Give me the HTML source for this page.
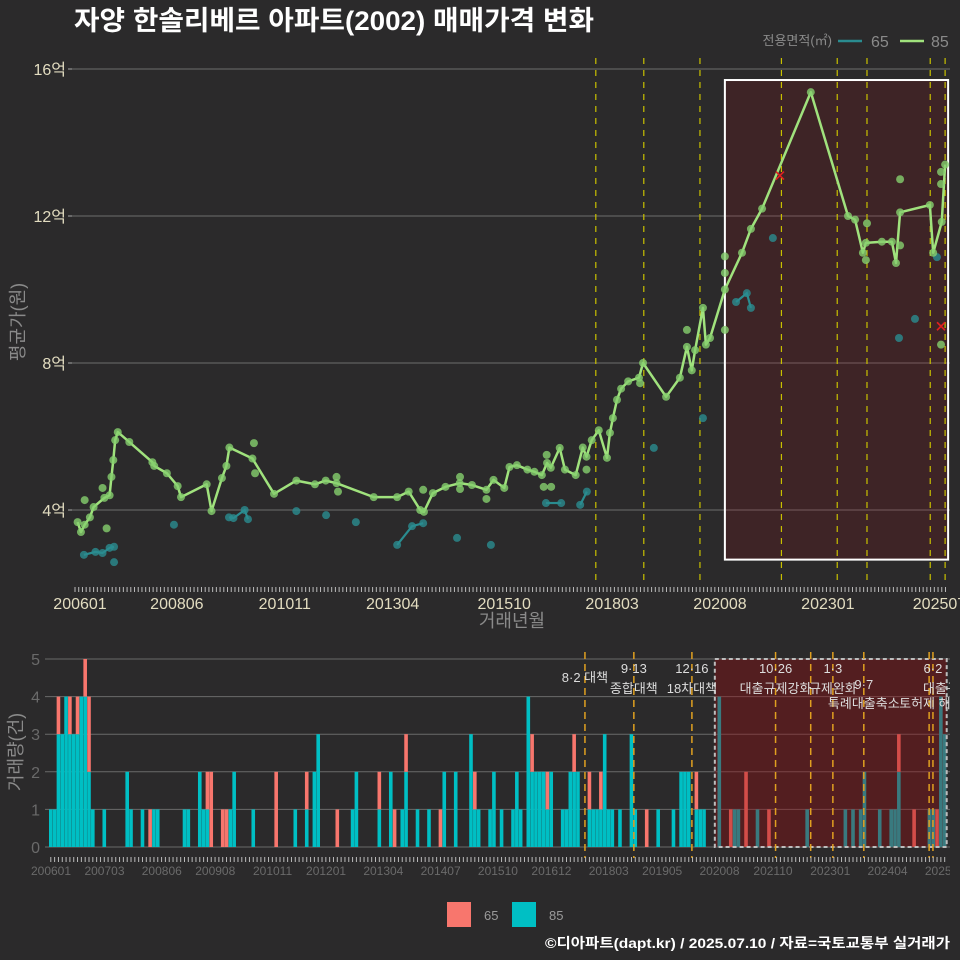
<!DOCTYPE html>
<html><head><meta charset="utf-8">
<style>
html,body{margin:0;padding:0;background:#2b2a2b;}
svg{display:block;font-family:"Liberation Sans","Noto Sans CJK KR",sans-serif;}
</style></head>
<body>
<svg id="chart" width="960" height="960" viewBox="0 0 960 960" xmlns="http://www.w3.org/2000/svg">
<rect x="0" y="0" width="960" height="960" fill="#2b2a2b"/>
<text x="74" y="30" font-size="27" font-weight="bold" fill="#ffffff" textLength="520" lengthAdjust="spacingAndGlyphs">자양 한솔리베르 아파트(2002) 매매가격 변화</text>
<g>
<text x="832" y="45" font-size="13" fill="#8a8a8a" text-anchor="end">전용면적(㎡)</text>
<line x1="838" y1="41" x2="862" y2="41" stroke="#2a8c90" stroke-width="2.5"/>
<text x="871" y="47" font-size="16" fill="#8a8a8a">65</text>
<line x1="900" y1="41" x2="924" y2="41" stroke="#a0e27d" stroke-width="2.5"/>
<text x="931" y="47" font-size="16" fill="#8a8a8a">85</text>
</g>
<g id="topChart"></g>
<g id="botChart"></g>
<g>
<rect x="447" y="902" width="24" height="25" fill="#f8766d"/>
<text x="484" y="920" font-size="13" fill="#9a9a9a">65</text>
<rect x="512" y="902" width="24" height="25" fill="#00bfc4"/>
<text x="549" y="920" font-size="13" fill="#9a9a9a">85</text>
</g>
<text x="950" y="948" font-size="14" font-weight="bold" fill="#ffffff" text-anchor="end" textLength="405" lengthAdjust="spacingAndGlyphs">©디아파트(dapt.kr) / 2025.07.10 / 자료=국토교통부 실거래가</text>
</svg>
<script>
// ---- price chart data (month index from 2006-01, price in 억) ----
const line85Month = [0.7,1.6,2.6,4,5,7.9,9.3,9.8,10.3,10.8,11.5,14.6,20.8,21.3,24.7,27.6,28.5,35.4,36.7,39.5,40.7,41.5,47.7,53.5,59.5,64.5,67.4,70.3,80.3,86.6,89.7,92.8,93.8,96.2,99.6,103.4,106.7,110.6,112.5,115.4,116.8,118.8,121.6,123.5,125.5,126.9,127.9,130.3,131.7,134.6,136.5,137.5,138.9,140.8,143,143.8,144.6,145.7,146.8,148.7,151.6,152.7,158.9,162.6,164.5,165.8,166.7,168.8,169.6,170.7,174.7,179.3,181.7,184.7,197.8,207.8,209.7,211.8,212.6,216.9,219.6,220.7,221.8,229.8,230.7,233,233.9];
const line85Price = [3.67,3.4,3.6,3.8,4.08,4.33,4.4,4.9,5.36,5.9,6.12,5.85,5.3,5.2,5.0,4.65,4.35,4.7,3.97,4.87,5.2,5.7,5.4,4.44,4.8,4.7,4.8,4.73,4.35,4.35,4.5,4.0,3.95,4.46,4.63,4.73,4.68,4.55,4.82,4.6,5.17,5.22,5.1,5.04,4.95,5.28,5.15,5.69,5.1,4.95,5.7,5.45,5.9,6.17,5.42,6.1,6.5,7.0,7.3,7.5,7.6,8.0,7.08,7.6,8.44,7.8,8.35,9.5,8.5,8.68,10.0,11.0,11.65,12.2,15.37,12.0,11.9,11.0,11.27,11.3,11.3,10.72,12.1,12.3,11.0,11.84,13.4];
const extra85Month = [2.6,8.5,7.4,48.1,48.4,70.3,70.7,93.6,103.5,103.5,110.6,126,128,126.8,137.5,174.7,174.7,174.7,164.5,151.9,212.9,221.8,221.8,212.6,232.8,232.8,232.8];
const extra85Price = [4.27,3.5,4.6,5.82,5.0,4.9,4.5,4.55,4.9,4.57,4.3,4.63,4.63,5.5,5.1,10.9,10.45,8.9,8.9,7.45,11.8,13.0,11.2,10.8,13.2,12.87,8.5];
const pts65Month = [2.4,5.5,7.4,9.3,10.5,26.6,41.4,42.6,45.6,46.5,59.5,67.5,75.5,86.6,90.6,93.6,102.7,111.8,126.6,130.7,135.8,137.6,155.6,168.8,177.7,180.6,181.7,187.6,221.5,225.8,231.7];
const pts65Price = [2.78,2.86,2.83,2.97,3.0,3.6,3.8,3.78,4.0,3.75,3.97,3.86,3.67,3.05,3.56,3.64,3.24,3.05,4.19,4.19,4.14,4.5,5.69,6.5,9.66,9.9,9.5,11.4,8.68,9.2,10.88];
const extra65Month = [10.5];
const extra65Price = [2.58];
const outlierMonth = [189.5,232.8];
const outlierPrice = [13.1,9.0];
const yTicks = [4,8,12,16];
const yTickLabels = ["4억","8억","12억","16억"];
const xTickMonths = [0,29,58,87,117,146,175,204,234];
const xTickLabels = ["200601","200806","201011","201304","201510","201803","202008","202301","202507"];
const topEventMonths = [140.0,152.9,168.0,189.9,204.9,212.9,229.9,233.9];
const topBoxStart = 174.7, topBoxEnd = 233.9, topBoxLow = 2.65, topBoxHigh = 15.7;

// ---- volume chart data ----
const barMonth = [0,1,2,3,4,5,6,7,8,9,10,11,14,20,21,24,26,27,28,35,36,39,40,41,42,45,46,47,48,53,59,64,67,69,70,75,79,80,86,89,90,92,93,96,99,102,103,106,110,111,112,115,116,118,121,122,123,125,126,127,128,129,130,131,134,135,136,137,138,141,142,143,144,145,146,147,149,152,153,156,159,163,165,166,167,169,170,171,175,178,179,180,182,185,188,198,208,210,212,213,217,220,221,222,226,230,231,232,233,234];
const bar85 = [1,1,3,3,4,3,3,3,4,4,2,1,1,2,1,1,0,1,1,1,1,2,1,1,0,0,0,1,2,1,0,1,1,2,3,0,1,2,1,2,0,1,2,1,1,0,2,2,3,1,1,1,2,1,1,2,1,4,2,2,2,2,1,2,1,1,2,2,2,1,1,1,1,3,1,1,1,3,1,0,1,1,2,2,2,1,1,1,4,0,1,1,0,1,0,1,1,1,1,2,1,1,1,2,0,1,1,0,4,3];
const bar65 = [0,0,1,0,0,1,0,1,0,1,2,0,0,0,0,0,1,0,0,0,0,0,0,1,2,1,1,0,0,0,2,0,1,0,0,1,0,0,1,0,1,0,1,0,0,1,0,0,0,1,0,0,0,0,0,0,0,0,1,0,0,0,1,0,0,0,0,1,0,1,0,0,1,0,0,0,0,0,0,1,0,0,0,0,0,1,0,0,0,1,0,0,2,0,1,0,0,0,0,0,0,0,0,1,1,0,0,1,0,0];
const volTicks = [0,1,2,3,4,5];
const volXTickMonths = [0,14,29,43,58,72,87,102,117,131,146,160,175,189,204,219,234];
const volXTickLabels = ["200601","200703","200806","200908","201011","201201","201304","201407","201510","201612","201803","201905","202008","202110","202301","202404","202507"];
const botEventMonths = [140.3,153.1,168.3,190.2,199.4,205.2,213.3,230.4,231.4];
const eventDates = ["8·2","9·13","12·16","10·26","","1·3","9·7","","6·2"];
const eventNames = ["대책","종합대책","18차대책","대출규제강화","","규제완화","특례대출축소","토허제 해제","대출규"];
const botBoxStart = 174.3, botBoxEnd = 235.0;

const NS = "http://www.w3.org/2000/svg";
function mk(parent, tag, attrs, text){
  const el = document.createElementNS(NS, tag);
  for (const k in attrs) el.setAttribute(k, attrs[k]);
  if (text !== undefined) el.textContent = text;
  parent.appendChild(el);
  return el;
}
const xTop = m => 75 + m * 3.72;
const yTop = v => 510 - (v - 4) * 36.75;
const xBot = m => 49 + m * 3.82;
const yBot = c => 847 - c * 37.6;

const topG = document.getElementById('topChart');
const botG = document.getElementById('botChart');

// ---- top chart ----
yTicks.forEach((t, i) => {
  const g = mk(topG, 'line', {x1:72, x2:950, y1:yTop(t), y2:yTop(t), stroke:'#6e6e6e', 'stroke-width':1});
  
  
  const tk = mk(topG, 'line', {x1:68, x2:72, y1:yTop(t), y2:yTop(t), stroke:'#aaa', 'stroke-width':1});
  
  
  const lb = mk(topG, 'text', {x:66, y:yTop(t)+6, 'font-size':16, fill:'#e2dcc0', 'text-anchor':'end'}, yTickLabels[i]);
  
  
});
const tb = mk(topG, 'rect', {x:xTop(topBoxStart), y:yTop(topBoxHigh), width:xTop(topBoxEnd)-xTop(topBoxStart)+3, height:yTop(topBoxLow)-yTop(topBoxHigh), fill:'rgba(150,10,15,0.18)', stroke:'#ffffff', 'stroke-width':2});


topEventMonths.forEach(m => {
  const l = mk(topG, 'line', {x1:xTop(m), x2:xTop(m), y1:58, y2:582, stroke:'#c8c000', 'stroke-width':1.2, 'stroke-dasharray':'6,6'});
  
  
});
for (let m = 0; m <= 234; m++) {
  const t = mk(topG, 'line', {x1:xTop(m), x2:xTop(m), y1:587, y2:592, stroke:'#bbbbbb', 'stroke-width':1});
  
  
}
xTickMonths.forEach((m, i) => {
  let cx = xTop(m) - 6;
  if (cx < 80) cx = 80;
  const t = mk(topG, 'text', {x:cx, y:609, 'font-size':16, fill:'#e2dcc0', 'text-anchor':'middle'}, xTickLabels[i]);
  
  
});
const xt = mk(topG, 'text', {x:512, y:627, 'font-size':18, fill:'#8a8a8a', 'text-anchor':'middle'}, '거래년월');


const yt = mk(topG, 'text', {x:0, y:0, 'font-size':18, fill:'#8a8a8a', 'text-anchor':'middle', transform:'translate(24,322) rotate(-90)'}, '평균가(원)');



let seg = [];
function flush65(){
  if (seg.length > 1) {
    const p = mk(topG, 'polyline', {points:seg.join(' '), fill:'none', stroke:'#2a8c90', 'stroke-width':2.2});
    
    
  }
  seg = [];
}
pts65Month.forEach((m, i) => {
  if (i > 0 && m - pts65Month[i-1] > 4.2) flush65();
  seg.push(xTop(m) + ',' + yTop(pts65Price[i]));
});
flush65();
const pl = mk(topG, 'polyline', {points: line85Month.map((m,i)=>xTop(m)+','+yTop(line85Price[i])).join(' '), fill:'none', stroke:'#a0e27d', 'stroke-width':2.5, 'stroke-linejoin':'round'});


function dot(m, v, color, name){
  const c = mk(topG, 'circle', {cx:xTop(m), cy:yTop(v), r:4, fill:color, 'fill-opacity':0.8});
  
  
}
pts65Month.forEach((m,i)=>dot(m, pts65Price[i], '#2a8c90', 'point-65'));
extra65Month.forEach((m,i)=>dot(m, extra65Price[i], '#2a8c90', 'point-65'));
line85Month.forEach((m,i)=>dot(m, line85Price[i], '#86cf6e', 'point-85'));
extra85Month.forEach((m,i)=>dot(m, extra85Price[i], '#86cf6e', 'point-85'));
outlierMonth.forEach((m,i)=>{
  const cx = xTop(m), cy = yTop(outlierPrice[i]);
  const p = mk(topG, 'path', {d:`M${cx-4},${cy-4}L${cx+4},${cy+4}M${cx-4},${cy+4}L${cx+4},${cy-4}`, stroke:'#e02020', 'stroke-width':1.6, fill:'none'});
  
  
});

// ---- bottom chart ----
volTicks.forEach(t => {
  const g = mk(botG, 'line', {x1:45, x2:950, y1:yBot(t), y2:yBot(t), stroke:'#6a6a6a', 'stroke-width':1});
  
  
  const lb = mk(botG, 'text', {x:40, y:yBot(t)+6, 'font-size':16, fill:'#6a6a6a', 'text-anchor':'end'}, String(t));
  
  
});
barMonth.forEach((m, i) => {
  const x = xBot(m);
  if (bar85[i] > 0) {
    const r = mk(botG, 'rect', {x:x, y:yBot(bar85[i]), width:3.6, height:yBot(0)-yBot(bar85[i]), fill:'#00bfc4'});
    
    
  }
  if (bar65[i] > 0) {
    const r = mk(botG, 'rect', {x:x, y:yBot(bar85[i]+bar65[i]), width:3.6, height:yBot(bar85[i])-yBot(bar85[i]+bar65[i]), fill:'#f8766d'});
    
    
  }
});
const bb = mk(botG, 'rect', {x:xBot(botBoxStart), y:yBot(5), width:xBot(botBoxEnd)-xBot(botBoxStart), height:yBot(0)-yBot(5), fill:'rgba(150,10,15,0.38)', stroke:'#bdbdbd', 'stroke-width':2, 'stroke-dasharray':'4,3'});


botEventMonths.forEach(m => {
  const l = mk(botG, 'line', {x1:xBot(m), x2:xBot(m), y1:652, y2:858, stroke:'#e0a020', 'stroke-width':1.5, 'stroke-dasharray':'7,5'});
  
  
});
const clip = mk(botG, 'clipPath', {id:'botclip'});
mk(clip, 'rect', {x:0, y:640, width:950, height:260});
const lbls = mk(botG, 'g', {'clip-path':'url(#botclip)'});


eventNames.forEach((n, i) => {
  if (!n && !eventDates[i]) return;
  const cx = xBot(botEventMonths[i]);
  if (i === 0) {
    const t = mk(lbls, 'text', {x:cx, y:682, 'font-size':13, fill:'#dddddd', 'text-anchor':'middle'}, eventDates[i] + ' ' + n);
    
    
    return;
  }
  const lowRow = (i === 6 || i === 7);
  if (eventDates[i]) {
    const d = mk(lbls, 'text', {x:cx, y: lowRow ? 689 : 673, 'font-size':13, fill:'#dddddd', 'text-anchor':'middle'}, eventDates[i]);
    
    
  }
  const t = mk(lbls, 'text', {x: i === 7 ? cx - 30 : cx, y: lowRow ? 708 : 693, 'font-size':13, fill:'#dddddd', 'text-anchor': i === 7 ? 'start' : (i === 8 ? 'start' : 'middle')}, n);
  if (i === 8) t.setAttribute('x', cx - 10);
  
  
});
for (let m = 0; m <= 234; m++) {
  const t = mk(botG, 'line', {x1:xBot(m)+1.8, x2:xBot(m)+1.8, y1:857, y2:862, stroke:'#bbbbbb', 'stroke-width':1});
  
  
}
volXTickMonths.forEach((m, i) => {
  const t = mk(lbls, 'text', {x:xBot(m)+2, y:875, 'font-size':12, fill:'#6a6a6a', 'text-anchor':'middle'}, volXTickLabels[i]);
  
  
});
const vt = mk(botG, 'text', {x:0, y:0, 'font-size':18, fill:'#8a8a8a', 'text-anchor':'middle', transform:'translate(22,752) rotate(-90)'}, '거래량(건)');


</script>
</body></html>
